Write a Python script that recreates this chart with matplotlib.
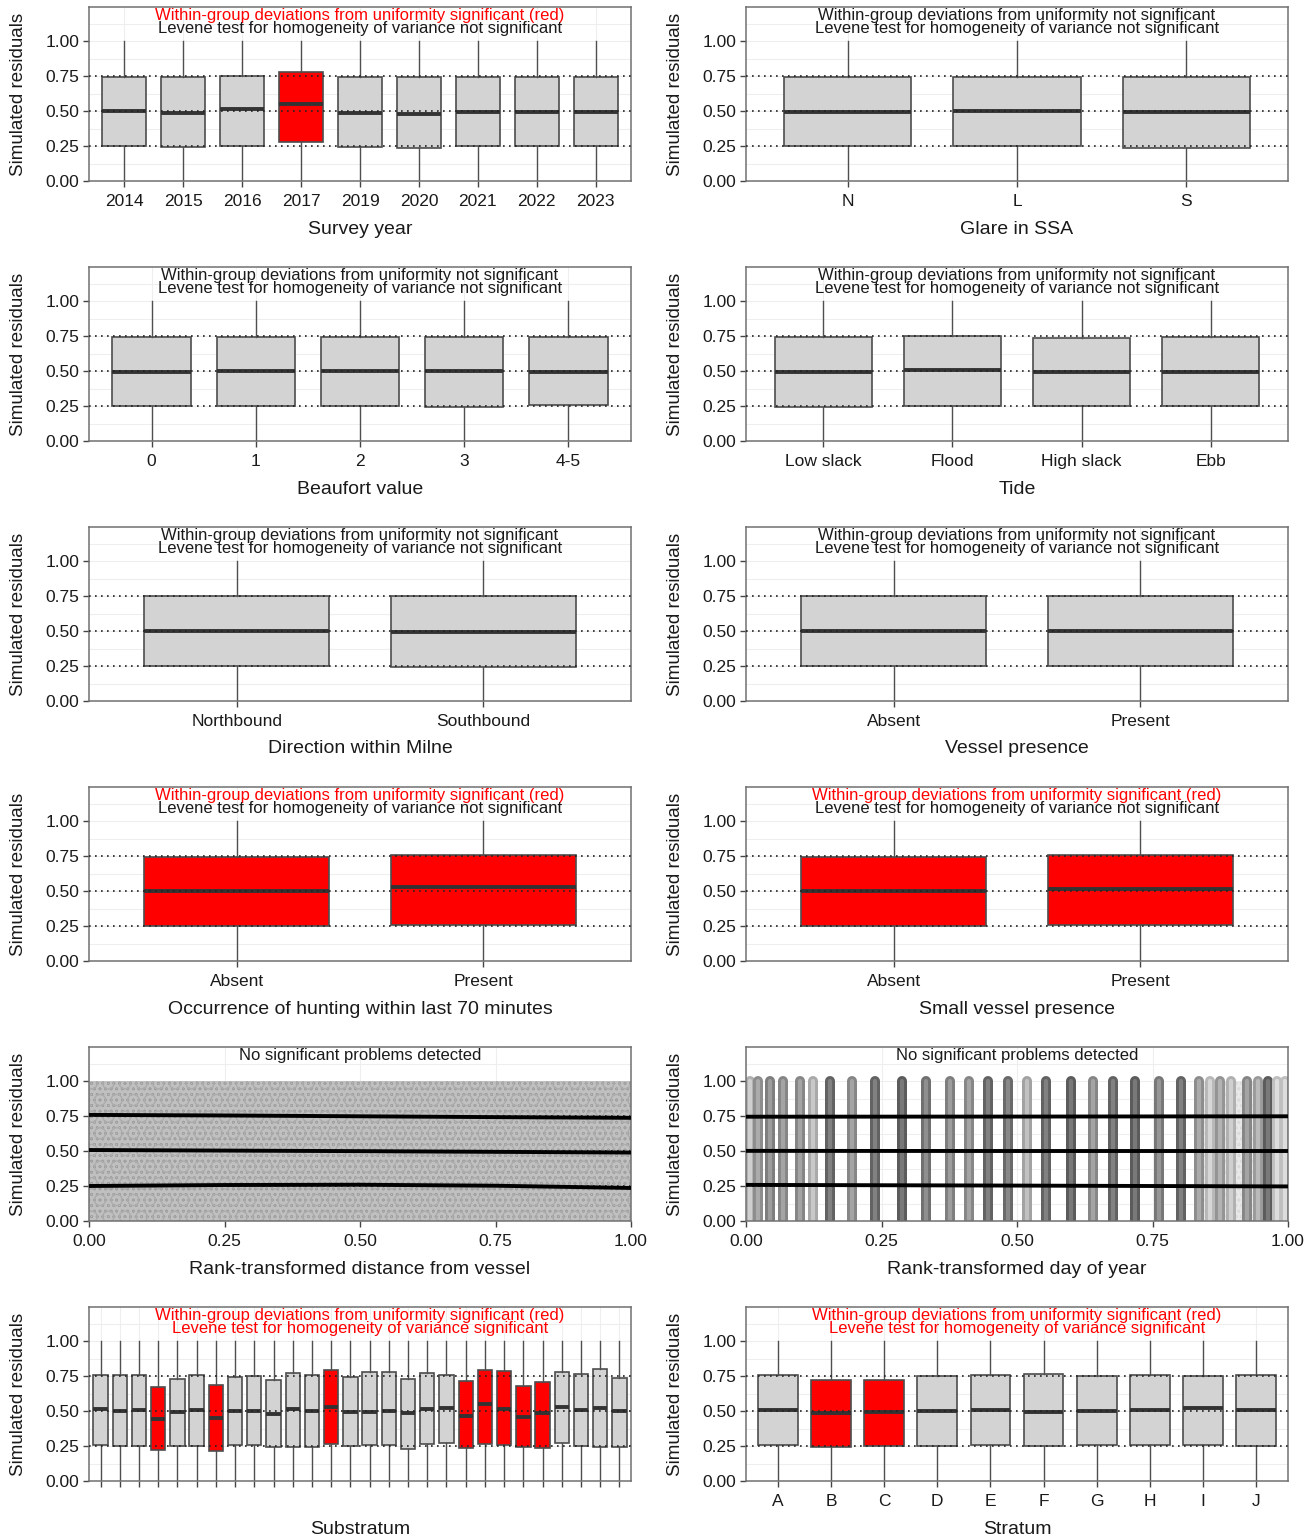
import matplotlib
matplotlib.use("Agg")
import matplotlib.pyplot as plt
from matplotlib.ticker import MultipleLocator

plt.rcParams['font.family'] = ['Liberation Sans', 'DejaVu Sans']
plt.rcParams['hatch.linewidth'] = 0.5

# ---------------- data ----------------
whisker_low = 0.0
whisker_high = 1.0

year_labels = ['2014', '2015', '2016', '2017', '2019', '2020', '2021', '2022', '2023']
year_q1 = [0.252, 0.245, 0.252, 0.276, 0.243, 0.233, 0.252, 0.248, 0.248]
year_med = [0.502, 0.488, 0.512, 0.548, 0.488, 0.479, 0.495, 0.495, 0.493]
year_q3 = [0.740, 0.740, 0.752, 0.776, 0.745, 0.740, 0.740, 0.740, 0.745]
year_sig = [0, 0, 0, 1, 0, 0, 0, 0, 0]

glare_labels = ['N', 'L', 'S']
glare_q1 = [0.248, 0.248, 0.238]
glare_med = [0.495, 0.500, 0.493]
glare_q3 = [0.745, 0.745, 0.745]
glare_sig = [0, 0, 0]

beaufort_labels = ['0', '1', '2', '3', '4-5']
beaufort_q1 = [0.248, 0.248, 0.248, 0.240, 0.257]
beaufort_med = [0.490, 0.502, 0.500, 0.498, 0.493]
beaufort_q3 = [0.745, 0.745, 0.745, 0.745, 0.740]
beaufort_sig = [0, 0, 0, 0, 0]

tide_labels = ['Low slack', 'Flood', 'High slack', 'Ebb']
tide_q1 = [0.243, 0.248, 0.248, 0.248]
tide_med = [0.495, 0.505, 0.493, 0.495]
tide_q3 = [0.745, 0.750, 0.738, 0.743]
tide_sig = [0, 0, 0, 0]

direction_labels = ['Northbound', 'Southbound']
direction_q1 = [0.250, 0.243]
direction_med = [0.500, 0.493]
direction_q3 = [0.750, 0.750]
direction_sig = [0, 0]

vessel_labels = ['Absent', 'Present']
vessel_q1 = [0.250, 0.250]
vessel_med = [0.500, 0.500]
vessel_q3 = [0.750, 0.750]
vessel_sig = [0, 0]

hunting_labels = ['Absent', 'Present']
hunting_q1 = [0.250, 0.257]
hunting_med = [0.498, 0.526]
hunting_q3 = [0.745, 0.760]
hunting_sig = [1, 1]

smallvessel_labels = ['Absent', 'Present']
smallvessel_q1 = [0.250, 0.257]
smallvessel_med = [0.498, 0.512]
smallvessel_q3 = [0.745, 0.760]
smallvessel_sig = [1, 1]

substratum_labels = [''] * 28
substratum_q1 = [0.260, 0.250, 0.250, 0.220, 0.250, 0.250, 0.215, 0.255, 0.255, 0.240,
                 0.245, 0.245, 0.265, 0.250, 0.255, 0.255, 0.230, 0.265, 0.270, 0.235,
                 0.265, 0.255, 0.245, 0.235, 0.270, 0.250, 0.245, 0.245]
substratum_med = [0.515, 0.500, 0.505, 0.440, 0.490, 0.510, 0.450, 0.500, 0.500, 0.480,
                  0.515, 0.500, 0.530, 0.490, 0.490, 0.500, 0.485, 0.515, 0.520, 0.465,
                  0.550, 0.515, 0.455, 0.485, 0.530, 0.510, 0.520, 0.500]
substratum_q3 = [0.760, 0.755, 0.755, 0.675, 0.730, 0.760, 0.685, 0.740, 0.750, 0.725,
                 0.775, 0.760, 0.790, 0.740, 0.780, 0.780, 0.730, 0.775, 0.760, 0.715,
                 0.795, 0.785, 0.680, 0.705, 0.780, 0.765, 0.800, 0.735]
substratum_sig = [0, 0, 0, 1, 0, 0, 1, 0, 0, 0, 0, 0, 1, 0, 0, 0, 0, 0, 0, 1,
                  1, 1, 1, 1, 0, 0, 0, 0]

stratum_labels = ['A', 'B', 'C', 'D', 'E', 'F', 'G', 'H', 'I', 'J']
stratum_q1 = [0.257, 0.242, 0.247, 0.247, 0.257, 0.252, 0.257, 0.257, 0.257, 0.252]
stratum_med = [0.510, 0.487, 0.492, 0.501, 0.510, 0.496, 0.503, 0.506, 0.518, 0.510]
stratum_q3 = [0.755, 0.720, 0.725, 0.748, 0.760, 0.765, 0.748, 0.755, 0.748, 0.755]
stratum_sig = [0, 1, 1, 0, 0, 0, 0, 0, 0, 0]

# continuous predictors: quantile regression lines
distance_x = [0.0, 0.25, 0.5, 0.75, 1.0]
distance_q25 = [0.250, 0.257, 0.259, 0.252, 0.236]
distance_q50 = [0.507, 0.503, 0.499, 0.494, 0.489]
distance_q75 = [0.758, 0.754, 0.748, 0.742, 0.737]
distance_range = [0.0, 1.0]

doy_x = [0.0, 0.5, 1.0]
doy_q25 = [0.258, 0.253, 0.247]
doy_q50 = [0.501, 0.500, 0.500]
doy_q75 = [0.745, 0.746, 0.748]
# columns of residuals at each rank-transformed day (position, shade 0 light - 1 dark)
doy_columns = [0.008, 0.022, 0.045, 0.069, 0.099, 0.124, 0.155, 0.196, 0.238, 0.287,
               0.333, 0.376, 0.412, 0.447, 0.484, 0.518, 0.554, 0.599, 0.641, 0.677,
               0.717, 0.762, 0.803, 0.836, 0.856, 0.874, 0.895, 0.924, 0.944, 0.963,
               0.980, 0.994]
doy_shade = [0.30, 0.55, 0.65, 0.60, 0.60, 0.35, 0.85, 0.60, 0.85, 0.90,
             0.75, 0.65, 0.60, 0.85, 0.80, 0.40, 0.85, 0.90, 0.60, 0.85,
             0.90, 0.70, 0.85, 0.55, 0.25, 0.50, 0.30, 0.60, 0.45, 0.90,
             0.20, 0.20]
doy_haze = [0.83, 1.0]

residual_range = [0.0, 1.0]

TXT_SIG = 'Within-group deviations from uniformity significant (red)'
TXT_NSIG = 'Within-group deviations from uniformity not significant'
LEV_NSIG = 'Levene test for homogeneity of variance not significant'
LEV_SIG = 'Levene test for homogeneity of variance significant'
TXT_OK = 'No significant problems detected'

# ---------------- style ----------------
FILL = '#D3D3D3'
RED = '#FF0000'
EDGE = '#4D4D4D'
MED = '#333333'
WHISK = '#4f4f4f'
SPINE = '#707070'
GRID = '#EEEEEE'
TXT = '#1a1a1a'

W, H = 1312, 1539
fig = plt.figure(figsize=(W / 100, H / 100), dpi=100)

col_left = [89, 746]
ax_w = 542
ax_h = 174
row_top = [7 + 260 * i for i in range(6)]


def make_ax(r, c):
    return fig.add_axes([col_left[c] / W, 1 - (row_top[r] + ax_h) / H, ax_w / W, ax_h / H])


def common(ax, xlabel):
    ax.set_ylim(0, 1.243)
    ax.set_yticks([0, 0.25, 0.5, 0.75, 1.0])
    ax.set_yticklabels(['0.00', '0.25', '0.50', '0.75', '1.00'])
    ax.yaxis.set_minor_locator(MultipleLocator(0.125))
    ax.grid(True, which='major', color=GRID, lw=0.8, zorder=0)
    ax.grid(True, which='minor', axis='y', color=GRID, lw=0.8, zorder=0)
    ax.set_axisbelow(True)
    for sp in ax.spines.values():
        sp.set_color(SPINE)
        sp.set_linewidth(1.1)
    ax.tick_params(which='major', direction='out', length=4, width=1.0, color='#444444',
                   labelcolor=TXT, labelsize=12.5, pad=3)
    ax.tick_params(axis='x', which='major', pad=5.5)
    ax.tick_params(which='minor', length=0)
    ax.set_ylabel('Simulated residuals', fontsize=13.5, color=TXT)
    ax.yaxis.set_label_coords(-70 / ax_w, 0.5)
    ax.yaxis.label.set_va('center')
    ax.set_xlabel(xlabel, fontsize=14, color=TXT)
    ax.xaxis.set_label_coords(0.5, -48 / ax_h)
    ax.xaxis.label.set_va('center')


def ref_lines(ax, z):
    for y in (0.25, 0.5, 0.75):
        ax.axhline(y, color='#222222', lw=1.2, ls=(0, (1, 2.6)), zorder=z)


def titles(ax, l1, c1, l2=None, c2=TXT):
    ax.text(0.5, 0.924, l1, transform=ax.transAxes, ha='center', va='baseline',
            fontsize=12, color=c1, zorder=6)
    if l2:
        ax.text(0.5, 0.849, l2, transform=ax.transAxes, ha='center', va='baseline',
                fontsize=12, color=c2, zorder=6)


def box_panel(ax, labels, q1, med, q3, sig, xlabel, l1, c1, l2, c2):
    n = len(labels)
    pos = list(range(1, n + 1))
    stats = [dict(med=m, q1=a, q3=b, whislo=whisker_low, whishi=whisker_high, label=lab)
             for lab, a, m, b in zip(labels, q1, med, q3)]
    bp = ax.bxp(stats, positions=pos, widths=0.75, patch_artist=True, showcaps=False,
                showfliers=False, manage_ticks=False,
                boxprops=dict(facecolor=FILL, edgecolor=EDGE, linewidth=1.2),
                medianprops=dict(color=MED, linewidth=2.8, solid_capstyle='butt'),
                whiskerprops=dict(color=WHISK, linewidth=1.0))
    for patch, s in zip(bp['boxes'], sig):
        if s:
            patch.set_facecolor(RED)
    ax.set_xlim(0.4, n + 0.6)
    ax.set_xticks(pos)
    ax.set_xticklabels(labels)
    common(ax, xlabel)
    ref_lines(ax, 4)
    titles(ax, l1, c1, l2, c2)


# Row 1
box_panel(make_ax(0, 0), year_labels, year_q1, year_med, year_q3, year_sig,
          'Survey year', TXT_SIG, RED, LEV_NSIG, TXT)
box_panel(make_ax(0, 1), glare_labels, glare_q1, glare_med, glare_q3, glare_sig,
          'Glare in SSA', TXT_NSIG, TXT, LEV_NSIG, TXT)
# Row 2
box_panel(make_ax(1, 0), beaufort_labels, beaufort_q1, beaufort_med, beaufort_q3, beaufort_sig,
          'Beaufort value', TXT_NSIG, TXT, LEV_NSIG, TXT)
box_panel(make_ax(1, 1), tide_labels, tide_q1, tide_med, tide_q3, tide_sig,
          'Tide', TXT_NSIG, TXT, LEV_NSIG, TXT)
# Row 3
box_panel(make_ax(2, 0), direction_labels, direction_q1, direction_med, direction_q3, direction_sig,
          'Direction within Milne', TXT_NSIG, TXT, LEV_NSIG, TXT)
box_panel(make_ax(2, 1), vessel_labels, vessel_q1, vessel_med, vessel_q3, vessel_sig,
          'Vessel presence', TXT_NSIG, TXT, LEV_NSIG, TXT)
# Row 4
box_panel(make_ax(3, 0), hunting_labels, hunting_q1, hunting_med, hunting_q3, hunting_sig,
          'Occurrence of hunting within last 70 minutes', TXT_SIG, RED, LEV_NSIG, TXT)
box_panel(make_ax(3, 1), smallvessel_labels, smallvessel_q1, smallvessel_med, smallvessel_q3,
          smallvessel_sig, 'Small vessel presence', TXT_SIG, RED, LEV_NSIG, TXT)

# Row 5 left: distance from vessel (dense cloud of semi-transparent residual circles)
ax = make_ax(4, 0)
ax.fill_between(distance_range, residual_range[0], residual_range[1], facecolor='#c0c0c0',
                edgecolor='#a0a0a0', hatch='ooo', linewidth=0, zorder=1)
ax.fill_between(distance_range, residual_range[0], residual_range[1], facecolor='none',
                edgecolor='#acacac', hatch='O', linewidth=0, zorder=1.1)
ref_lines(ax, 2)
for q in (distance_q25, distance_q50, distance_q75):
    ax.plot(distance_x, q, color='black', lw=2.8, zorder=3)
ax.set_xlim(0, 1)
ax.set_xticks([0, 0.25, 0.5, 0.75, 1.0])
ax.set_xticklabels(['0.00', '0.25', '0.50', '0.75', '1.00'])
common(ax, 'Rank-transformed distance from vessel')
titles(ax, TXT_OK, TXT)

# Row 5 right: day of year
ax = make_ax(4, 1)
ax.fill_between(doy_haze, residual_range[0], residual_range[1], facecolor='#e8e8e8',
                edgecolor='#dadada', hatch='ooo', linewidth=0, zorder=0.8)
for x, d in zip(doy_columns, doy_shade):
    g_out = 0.86 - 0.56 * d
    g_in = min(g_out + 0.12, 0.95)
    ax.plot([x, x], residual_range, color=str(g_out), lw=7.2, solid_capstyle='round', zorder=1)
    ax.plot([x, x], residual_range, color=str(g_in), lw=3.0, solid_capstyle='round', zorder=1.1)
ref_lines(ax, 2)
for q in (doy_q25, doy_q50, doy_q75):
    ax.plot(doy_x, q, color='black', lw=2.8, zorder=3)
ax.set_xlim(0, 1)
ax.set_xticks([0, 0.25, 0.5, 0.75, 1.0])
ax.set_xticklabels(['0.00', '0.25', '0.50', '0.75', '1.00'])
common(ax, 'Rank-transformed day of year')
titles(ax, TXT_OK, TXT)

# Row 6
box_panel(make_ax(5, 0), substratum_labels, substratum_q1, substratum_med, substratum_q3,
          substratum_sig, 'Substratum', TXT_SIG, RED, LEV_SIG, RED)
box_panel(make_ax(5, 1), stratum_labels, stratum_q1, stratum_med, stratum_q3, stratum_sig,
          'Stratum', TXT_SIG, RED, LEV_SIG, RED)

fig.savefig('out.png', dpi=100)
